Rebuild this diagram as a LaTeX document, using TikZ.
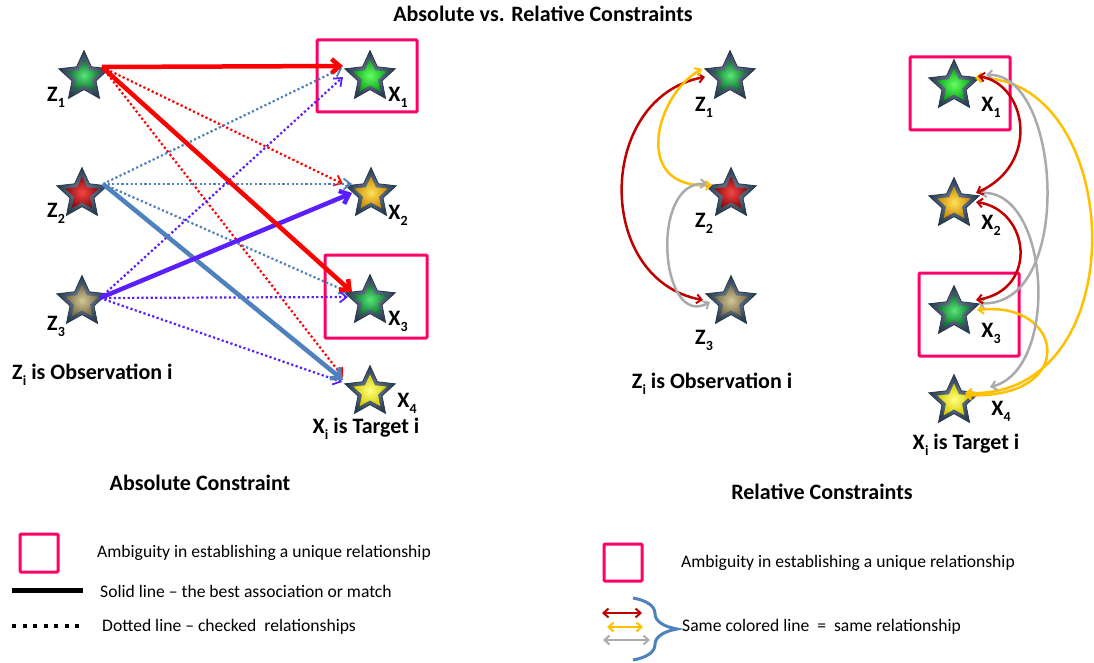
\documentclass[tikz,border=0pt]{standalone}
\usepackage{fontspec}
\setmainfont{Carlito}
\usetikzlibrary{shapes.geometric,arrows.meta,decorations.pathreplacing,calc}
\definecolor{pinkbox}{RGB}{255,0,102}
\definecolor{sblue}{RGB}{79,129,189}
\definecolor{vio}{RGB}{90,30,255}
\definecolor{dred}{RGB}{192,0,0}
\definecolor{gold}{RGB}{255,192,0}
\definecolor{lgray}{RGB}{170,170,170}
\definecolor{slate}{RGB}{62,86,112}
\definecolor{slatedk}{RGB}{40,58,78}
\newcommand\subl[2]{#1\kern0.2pt\raisebox{-0.28em}{\fontsize{14}{14}\selectfont #2}}
\newcommand\putstar[4]{%
  \node[starout] (#1) at (#2) {};
  \node[starin, inner color=#3, outer color=#4] at (#1) {};}
\tikzset{
  starout/.style={star, star points=5, star point ratio=2.1, minimum size=53pt,
    inner sep=0pt, outer sep=0pt, draw=slatedk, line width=0.8pt,
    inner color=slate!70!white, outer color=slatedk},
  starin/.style={star, star points=5, star point ratio=2.1, minimum size=35pt,
    inner sep=0pt, outer sep=0pt},
  lbl/.style={font=\fontsize{22}{22}\selectfont\bfseries, inner sep=0pt},
  leg/.style={font=\fontsize{17.6}{17.6}\selectfont, inner sep=0pt, anchor=west},
  sol/.style={line width=4.5pt, -{Straight Barb[length=8pt,width=14pt]}},
  dotl/.style={line width=2.2pt, dash pattern=on 2.2pt off 2.4pt,
    -{Straight Barb[length=7pt,width=11pt,line width=1.8pt]}},
  arc/.style={line width=2.5pt,
    {Straight Barb[length=5pt,width=9pt,line width=2pt]}-{Straight Barb[length=5pt,width=9pt,line width=2pt]}},
  pbox/.style={draw=pinkbox, line width=3pt, rounded corners=1pt},
}
\begin{document}
\begin{tikzpicture}[x=1pt,y=-1pt]
\useasboundingbox (0,0) rectangle (1094,663);
\fill[white] (0,0) rectangle (1094,663);

% title
\node[lbl] (title) at (543,14) {Absolute vs. Relative Constraints};

% ---------- left diagram ----------
\draw[pbox] (317,40) rectangle (417,112);
\draw[pbox] (325,255) rectangle (427,338);

\putstar{z1}{84,77}{{rgb,255:red,90;green,230;blue,120}}{{rgb,255:red,10;green,110;blue,45}}
\putstar{z2}{82,194}{{rgb,255:red,245;green,70;blue,70}}{{rgb,255:red,140;green,10;blue,10}}
\putstar{z3}{82,302}{{rgb,255:red,210;green,200;blue,150}}{{rgb,255:red,120;green,105;blue,70}}
\putstar{x1}{370,77}{{rgb,255:red,100;green,255;blue,100}}{{rgb,255:red,10;green,170;blue,20}}
\putstar{x2}{371,194}{{rgb,255:red,255;green,225;blue,90}}{{rgb,255:red,205;green,140;blue,0}}
\putstar{x3}{370,301}{{rgb,255:red,90;green,230;blue,120}}{{rgb,255:red,10;green,120;blue,45}}
\putstar{x4}{370,392}{{rgb,255:red,255;green,255;blue,130}}{{rgb,255:red,215;green,205;blue,0}}

\node[lbl] (lz1) at (56,97) {\subl{Z}{1}};
\node[lbl] (lz2) at (56,213) {\subl{Z}{2}};
\node[lbl] (lz3) at (56,326) {\subl{Z}{3}};
\node[lbl] (lx1) at (398,97) {\subl{X}{1}};
\node[lbl] (lx2) at (398,215) {\subl{X}{2}};
\node[lbl] (lx3) at (398,321) {\subl{X}{3}};
\node[lbl] (lx4) at (407,403) {\subl{X}{4}};
\node[lbl, anchor=west] (obsL) at (12,375) {\subl{Z}{i} is Observation i};
\node[lbl] (tgtL) at (366,429) {\subl{X}{i} is Target i};
\node[lbl] (absC) at (200,483) {Absolute Constraint};

% dotted relationships
\draw[dotl, red] ($(z1)+(18,-10)$) -- ($(x2)+(-28,-10)$);
\draw[dotl, red] ($(z1)+(18,-10)$) -- ($(x4)+(-27,-15)$);
\draw[dotl, sblue] ($(z2)+(21,-10)$) -- ($(x1)+(-28,-9)$);
\draw[dotl, sblue] ($(z2)+(21,-10)$) -- ($(x2)+(-19,-10)$);
\draw[dotl, sblue] ($(z2)+(21,-10)$) -- ($(x3)+(-22,-9)$);
\draw[dotl, vio] ($(z3)+(18,-4)$) -- ($(x1)+(-27,0)$);
\draw[dotl, vio] ($(z3)+(18,-4)$) -- ($(x3)+(-22,-4)$);
\draw[dotl, vio] ($(z3)+(18,-4)$) -- ($(x4)+(-28,-10)$);
% solid best matches
\draw[sol, sblue] ($(z2)+(21,-10)$) -- ($(x4)+(-27,-12)$);
\draw[sol, vio] ($(z3)+(18,-4)$) -- ($(x2)+(-19,-1)$);
\draw[sol, red] ($(z1)+(18,-10)$) -- ($(x1)+(-27,-11)$);
\draw[sol, red] ($(z1)+(18,-10)$) -- ($(x3)+(-18,-9)$);

% ---------- right diagram ----------
\draw[pbox] (910,57) rectangle (1010,130);
\draw[pbox] (919,273) rectangle (1019,356);

\putstar{rz1}{730,77}{{rgb,255:red,90;green,230;blue,120}}{{rgb,255:red,10;green,110;blue,45}}
\putstar{rz2}{731,194}{{rgb,255:red,245;green,70;blue,70}}{{rgb,255:red,140;green,10;blue,10}}
\putstar{rz3}{731,302}{{rgb,255:red,210;green,200;blue,150}}{{rgb,255:red,120;green,105;blue,70}}
\putstar{rx1}{954,86}{{rgb,255:red,100;green,255;blue,100}}{{rgb,255:red,10;green,170;blue,20}}
\putstar{rx2}{954,204}{{rgb,255:red,255;green,225;blue,90}}{{rgb,255:red,205;green,140;blue,0}}
\putstar{rx3}{954,312}{{rgb,255:red,90;green,230;blue,120}}{{rgb,255:red,10;green,120;blue,45}}
\putstar{rx4}{954,401}{{rgb,255:red,255;green,255;blue,130}}{{rgb,255:red,215;green,205;blue,0}}

\node[lbl] (rlz1) at (704,107) {\subl{Z}{1}};
\node[lbl] (rlz2) at (704,223) {\subl{Z}{2}};
\node[lbl] (rlz3) at (704,340) {\subl{Z}{3}};
\node[lbl] (rlx1) at (991,107) {\subl{X}{1}};
\node[lbl] (rlx2) at (991,225) {\subl{X}{2}};
\node[lbl] (rlx3) at (991,333) {\subl{X}{3}};
\node[lbl] (rlx4) at (1001,411) {\subl{X}{4}};
\node[lbl] (obsR) at (712,384) {\subl{Z}{i} is Observation i};
\node[lbl] (tgtR) at (966,445) {\subl{X}{i} is Target i};
\node[lbl] (relC) at (822,492) {Relative Constraints};

% observation-side arcs
\draw[arc, dred] ($(rz1)+(-25,0)$) .. controls +(-109,20) and +(-109,-20) .. ($(rz3)+(-28,-2)$);
\draw[arc, gold] ($(rz1)+(-28,-8)$) .. controls +(-47,26) and +(-81,5) .. ($(rz2)+(-19,-9)$);
\draw[arc, lgray] ($(rz2)+(-24,-10)$) .. controls +(-58,-4) and +(-50,28) .. ($(rz3)+(-21,0)$);

% target-side arcs
\draw[arc, gold] ($(rx1)+(21,-8)$) .. controls +(150,-3) and +(174,7) .. ($(rx4)+(11,-8)$);
\draw[arc, gold] ($(rx3)+(23,-2)$) .. controls +(88,-10) and +(114,5) .. ($(rx4)+(11,-6)$);
\draw[arc, lgray] ($(rx1)+(32,-11)$) .. controls +(76,-3) and +(97,7) .. ($(rx3)+(24,-9)$);
\draw[arc, lgray] ($(rx2)+(26,-11)$) .. controls +(70,-3) and +(70,-17) .. ($(rx4)+(36,-14)$);
\draw[arc, dred] ($(rx1)+(24,-10)$) .. controls +(50,9) and +(64,-28) .. ($(rx2)+(22,-11)$);
\draw[arc, dred] ($(rx2)+(22,-2)$) .. controls +(54,8) and +(63,-10) .. ($(rx3)+(22,-12)$);

% ---------- legends ----------
\draw[pbox] (20,534) rectangle (58,572);
\node[leg] (lgA) at (97,553) {Ambiguity in establishing a unique relationship};
\coordinate (s1) at (12,590);
\coordinate (s2) at (83,590);
\draw[line width=5pt] (s1) -- (s2);
\node[leg] (lgS) at (100,591) {Solid line – the best association or match};
\coordinate (d1) at (12,626);
\coordinate (d2) at (80,626);
\draw[line width=4pt, dash pattern=on 4pt off 6.5pt] (d1) -- (d2);
\node[leg] (lgD) at (102,627) {Dotted line – checked\ \ relationships};

\draw[pbox] (604,544) rectangle (642,581);
\node[leg] (lgA2) at (681,563) {Ambiguity in establishing a unique relationship};
\coordinate (ra1) at (602,613);
\coordinate (ra2) at (642,613);
\coordinate (ya1) at (607,627);
\coordinate (ya2) at (643,627);
\coordinate (ga1) at (603,640);
\coordinate (ga2) at (650,640);
\draw[arc, dred, line width=2.2pt] (ra1) -- (ra2);
\draw[arc, gold, line width=2.2pt] (ya1) -- (ya2);
\draw[arc, lgray, line width=2.2pt] (ga1) -- (ga2);
\coordinate (b1) at (633,598);
\coordinate (b2) at (633,660);
\draw[sblue, line width=3pt, decorate, decoration={brace, amplitude=44pt}] (b1) -- (b2);
\node[leg] (lgC) at (682,627) {Same colored line\ \ =\ \ same relationship};
\end{tikzpicture}
\end{document}
